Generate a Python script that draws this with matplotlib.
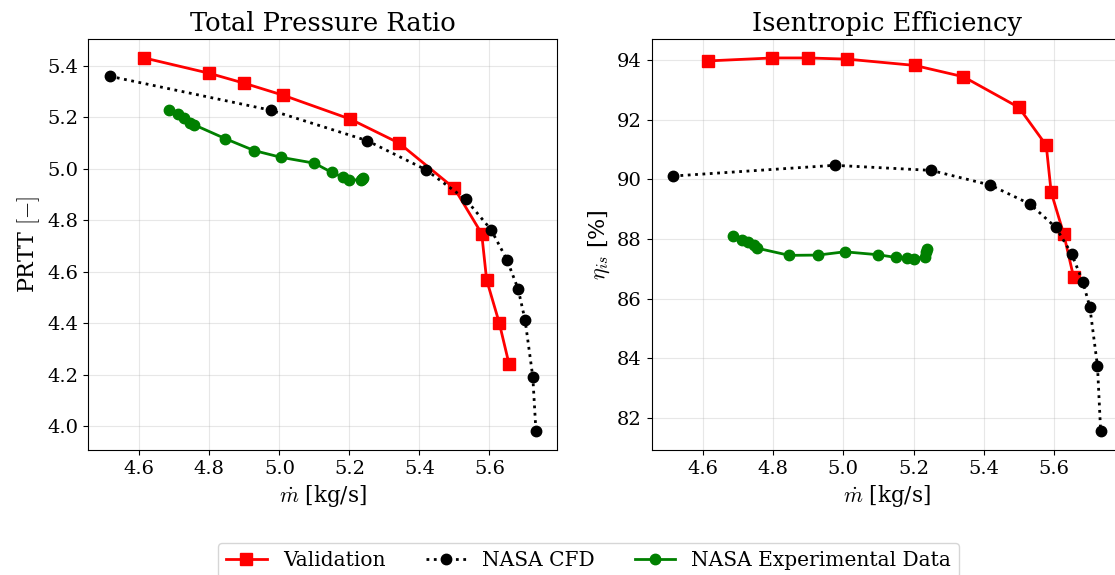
import matplotlib

matplotlib.use("Agg")

import matplotlib.pyplot as plt

plt.rcParams["font.family"] = "DejaVu Serif"
plt.rcParams["mathtext.fontset"] = "cm"

# Validation (red squares)
val_mdot = [4.614, 4.798, 4.899, 5.011, 5.203, 5.342, 5.500, 5.578, 5.592, 5.628, 5.656]
val_prtt = [5.431, 5.372, 5.333, 5.286, 5.193, 5.100, 4.924, 4.748, 4.569, 4.402, 4.242]
val_eff = [93.97, 94.07, 94.07, 94.03, 93.82, 93.44, 92.41, 91.14, 89.57, 88.16, 86.72]

# NASA CFD (black circles, dotted)
cfd_mdot = [4.515, 4.975, 5.250, 5.418, 5.532, 5.605, 5.650, 5.682, 5.702, 5.724, 5.733]
cfd_prtt = [5.360, 5.228, 5.110, 4.997, 4.882, 4.763, 4.647, 4.533, 4.412, 4.191, 3.980]
cfd_eff = [90.11, 90.47, 90.30, 89.81, 89.17, 88.39, 87.51, 86.57, 85.73, 83.74, 81.55]

# NASA experimental data (green circles)
exp_mdot = [4.686, 4.710, 4.728, 4.745, 4.755, 4.846, 4.928, 5.004, 5.100, 5.150,
            5.181, 5.200, 5.232, 5.236, 5.238]
exp_prtt = [5.229, 5.212, 5.199, 5.180, 5.172, 5.117, 5.071, 5.045, 5.022, 4.986,
            4.968, 4.957, 4.957, 4.962, 4.966]
exp_eff = [88.10, 87.96, 87.90, 87.79, 87.69, 87.45, 87.46, 87.57, 87.47, 87.38,
           87.35, 87.33, 87.40, 87.55, 87.68]

fig = plt.figure(figsize=(11.15, 5.75), dpi=100)
ax1 = fig.add_axes([0.0792, 0.2174, 0.4206, 0.7143])
ax2 = fig.add_axes([0.5845, 0.2174, 0.4218, 0.7143])

panels = [
    (ax1, val_prtt, cfd_prtt, exp_prtt, "Total Pressure Ratio", r"PRTT $[-]$"),
    (ax2, val_eff, cfd_eff, exp_eff, "Isentropic Efficiency", r"$\eta_{is}$ [%]"),
]

for ax, val_y, cfd_y, exp_y, title, ylabel in panels:
    ax.plot(val_mdot, val_y, color="red", marker="s", markersize=8.5, linewidth=2,
            label="Validation", zorder=3)
    ax.plot(cfd_mdot, cfd_y, color="black", linestyle=":", marker="o", markersize=7.5,
            linewidth=2, label="NASA CFD", zorder=3)
    ax.plot(exp_mdot, exp_y, color="green", marker="o", markersize=7.5, linewidth=2,
            label="NASA Experimental Data", zorder=3)
    ax.set_title(title, fontsize=18.5)
    ax.set_xlabel(r"$\dot{m}$ [kg/s]", fontsize=15.5)
    ax.set_ylabel(ylabel, fontsize=16)
    ax.tick_params(labelsize=14)
    ax.grid(alpha=0.3)

ax1.set_xticks([4.6, 4.8, 5.0, 5.2, 5.4, 5.6])
ax2.set_xticks([4.6, 4.8, 5.0, 5.2, 5.4, 5.6])

handles, labels = ax1.get_legend_handles_labels()
fig.legend(handles, labels, loc="upper center", bbox_to_anchor=(0.528, 0.0562),
           ncol=3, fontsize=14.5, borderaxespad=0)

fig.savefig("out.png", dpi=100)
